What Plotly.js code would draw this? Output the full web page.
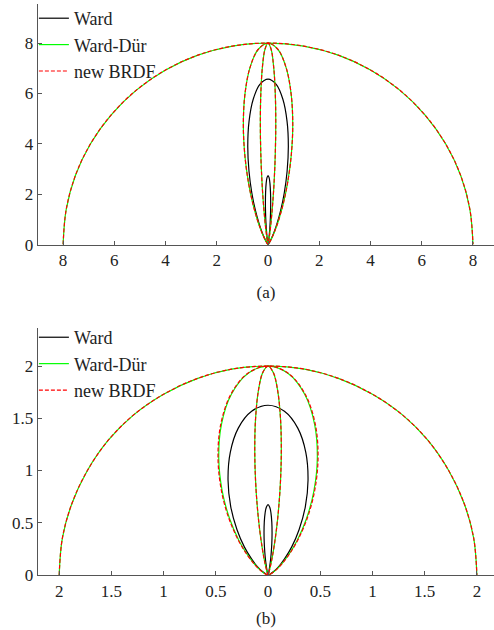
<!DOCTYPE html>
<html><head><meta charset="utf-8">
<script src="https://cdn.plot.ly/plotly-3.0.1.min.js"></script>
<style>
html,body{margin:0;padding:0;background:#fff}
#chart{width:494px;height:630px}
#chart svg text{font-family:'Liberation Serif' !important}
</style>
</head><body><div id="chart"></div>
<script>
// ---------- (a) ----------
const circA_x = [-8, -7.88, -7.52, -6.93, -6.13, -5.14, -4, -2.74, -1.39, 0, 1.39, 2.74, 4, 5.14, 6.13, 6.93, 7.52, 7.88, 8];
const circA_y = [0, 1.39, 2.74, 4, 5.14, 6.13, 6.93, 7.52, 7.88, 8, 7.88, 7.52, 6.93, 6.13, 5.14, 4, 2.74, 1.39, 0];
const durOutA_x = [0, 0.050, 0.168, 0.277, 0.421, 0.594, 0.768, 0.906, 0.964, 0.902, 0.705, 0.388, 0, -0.388, -0.705, -0.902, -0.964, -0.906, -0.768, -0.594, -0.421, -0.277, -0.168, -0.050, 0];
const durOutA_y = [0, 0.073, 0.308, 0.573, 0.997, 1.626, 2.482, 3.548, 4.755, 5.970, 7.025, 7.744, 8, 7.744, 7.025, 5.970, 4.755, 3.548, 2.482, 1.626, 0.997, 0.573, 0.308, 0.073, 0];
const durInA_x = [0, 0.017, 0.054, 0.089, 0.134, 0.188, 0.242, 0.284, 0.301, 0.281, 0.219, 0.120, 0, -0.120, -0.219, -0.281, -0.301, -0.284, -0.242, -0.188, -0.134, -0.089, -0.054, -0.017, 0];
const durInA_y = [0, 0.088, 0.347, 0.631, 1.074, 1.720, 2.587, 3.651, 4.843, 6.031, 7.057, 7.753, 8, 7.753, 7.057, 6.031, 4.843, 3.651, 2.587, 1.720, 1.074, 0.631, 0.347, 0.088, 0];
const wardOutA_x = [0, 0.041, 0.138, 0.227, 0.346, 0.488, 0.631, 0.744, 0.792, 0.741, 0.579, 0.319, 0, -0.319, -0.579, -0.741, -0.792, -0.744, -0.631, -0.488, -0.346, -0.227, -0.138, -0.041, 0];
const wardOutA_y = [0, 0.060, 0.253, 0.470, 0.819, 1.335, 2.038, 2.913, 3.905, 4.902, 5.769, 6.359, 6.57, 6.359, 5.769, 4.902, 3.905, 2.913, 2.038, 1.335, 0.819, 0.470, 0.253, 0.060, 0];
const wardInA_x = [0, 0.006, 0.018, 0.030, 0.046, 0.064, 0.083, 0.097, 0.103, 0.096, 0.075, 0.041, 0, -0.041, -0.075, -0.096, -0.103, -0.097, -0.083, -0.064, -0.046, -0.030, -0.018, -0.006, 0];
const wardInA_y = [0, 0.030, 0.119, 0.216, 0.368, 0.589, 0.886, 1.250, 1.659, 2.066, 2.417, 2.655, 2.74, 2.655, 2.417, 2.066, 1.659, 1.250, 0.886, 0.589, 0.368, 0.216, 0.119, 0.030, 0];

// ---------- (b) ----------
const circB_x = [-2, -1.97, -1.88, -1.73, -1.53, -1.29, -1, -0.68, -0.35, 0, 0.35, 0.68, 1, 1.29, 1.53, 1.73, 1.88, 1.97, 2];
const circB_y = [0, 0.35, 0.68, 1, 1.29, 1.53, 1.73, 1.88, 1.97, 2, 1.97, 1.88, 1.73, 1.53, 1.29, 1, 0.68, 0.35, 0];
const durOutB_x = [0, 0.021, 0.074, 0.125, 0.194, 0.279, 0.367, 0.439, 0.472, 0.446, 0.351, 0.193, 0, -0.193, -0.351, -0.446, -0.472, -0.439, -0.367, -0.279, -0.194, -0.125, -0.074, -0.021, 0];
const durOutB_y = [0, 0.008, 0.047, 0.099, 0.189, 0.331, 0.536, 0.804, 1.117, 1.442, 1.730, 1.929, 2, 1.929, 1.730, 1.442, 1.117, 0.804, 0.536, 0.331, 0.189, 0.099, 0.047, 0.008, 0];
const newOutB_x = [0, 0.021, 0.075, 0.127, 0.197, 0.283, 0.373, 0.446, 0.479, 0.453, 0.356, 0.196, 0, -0.196, -0.356, -0.453, -0.479, -0.446, -0.373, -0.283, -0.197, -0.127, -0.075, -0.021, 0];
const durInB_x = [0, 0.0068, 0.0228, 0.0373, 0.0565, 0.0792, 0.1018, 0.1197, 0.1272, 0.1189, 0.0926, 0.0509, 0, -0.0509, -0.0926, -0.1189, -0.1272, -0.1197, -0.1018, -0.0792, -0.0565, -0.0373, -0.0228, -0.0068, 0];
const durInB_y = [0, 0.021, 0.0848, 0.1547, 0.265, 0.4253, 0.641, 0.908, 1.206, 1.505, 1.763, 1.937, 2, 1.937, 1.763, 1.505, 1.206, 0.908, 0.641, 0.4253, 0.265, 0.1547, 0.0848, 0.021, 0];
const wardOutB_x = [0, 0.017, 0.060, 0.102, 0.158, 0.227, 0.298, 0.357, 0.383, 0.362, 0.285, 0.157, 0, -0.157, -0.285, -0.362, -0.383, -0.357, -0.298, -0.227, -0.158, -0.102, -0.060, -0.017, 0];
const wardOutB_y = [0, 0.007, 0.038, 0.080, 0.154, 0.269, 0.436, 0.653, 0.908, 1.172, 1.406, 1.567, 1.625, 1.567, 1.406, 1.172, 0.908, 0.653, 0.436, 0.269, 0.154, 0.080, 0.038, 0.007, 0];
const wardInB_x = [0, 0.0021, 0.0069, 0.0113, 0.0171, 0.0240, 0.0308, 0.0363, 0.0385, 0.0360, 0.0281, 0.0154, 0, -0.0154, -0.0281, -0.0360, -0.0385, -0.0363, -0.0308, -0.0240, -0.0171, -0.0113, -0.0069, -0.0021, 0];
const wardInB_y = [0, 0.007, 0.0285, 0.052, 0.089, 0.143, 0.216, 0.306, 0.406, 0.506, 0.593, 0.652, 0.673, 0.652, 0.593, 0.506, 0.406, 0.306, 0.216, 0.143, 0.089, 0.052, 0.0285, 0.007, 0];

// ticks
const xTickValsA = [-8, -6, -4, -2, 0, 2, 4, 6, 8];
const xTickTextA = ['8', '6', '4', '2', '0', '2', '4', '6', '8'];
const yTickValsA = [0, 2, 4, 6, 8];
const yTickTextA = ['0', '2', '4', '6', '8'];
const xTickValsB = [-2, -1.5, -1, -0.5, 0, 0.5, 1, 1.5, 2];
const xTickTextB = ['2', '1.5', '1', '0.5', '0', '0.5', '1', '1.5', '2'];
const yTickValsB = [0, 0.5, 1, 1.5, 2];
const yTickTextB = ['0', '0.5', '1', '1.5', '2'];

const names = ['Ward', 'Ward-D\u00fcr', 'new BRDF'];

const BLACK = '#000000', GREEN = '#00ff00', RED = '#ff0000';
const FONT = 'Liberation Serif';

function tr(x, y, xa, ya, color, dash, name, show, legend) {
  return {
    x: x, y: y, xaxis: xa, yaxis: ya, type: 'scatter', mode: 'lines',
    line: {color: color, width: 1.2, dash: dash, shape: 'spline', smoothing: 1},
    name: name, showlegend: show, legend: legend, hoverinfo: 'skip'
  };
}

const data = [
  // (a)
  tr(wardOutA_x, wardOutA_y, 'x', 'y', BLACK, 'solid', names[0], true, 'legend'),
  tr(wardInA_x, wardInA_y, 'x', 'y', BLACK, 'solid', names[0], false, 'legend'),
  tr(circA_x, circA_y, 'x', 'y', GREEN, 'solid', names[1], true, 'legend'),
  tr(durOutA_x, durOutA_y, 'x', 'y', GREEN, 'solid', names[1], false, 'legend'),
  tr(durInA_x, durInA_y, 'x', 'y', GREEN, 'solid', names[1], false, 'legend'),
  tr(circA_x, circA_y, 'x', 'y', RED, '4px,2px', names[2], true, 'legend'),
  tr(durOutA_x, durOutA_y, 'x', 'y', RED, '4px,2px', names[2], false, 'legend'),
  tr(durInA_x, durInA_y, 'x', 'y', RED, '4px,2px', names[2], false, 'legend'),
  // (b)
  tr(wardOutB_x, wardOutB_y, 'x2', 'y2', BLACK, 'solid', names[0], true, 'legend2'),
  tr(wardInB_x, wardInB_y, 'x2', 'y2', BLACK, 'solid', names[0], false, 'legend2'),
  tr(circB_x, circB_y, 'x2', 'y2', GREEN, 'solid', names[1], true, 'legend2'),
  tr(durOutB_x, durOutB_y, 'x2', 'y2', GREEN, 'solid', names[1], false, 'legend2'),
  tr(durInB_x, durInB_y, 'x2', 'y2', GREEN, 'solid', names[1], false, 'legend2'),
  tr(circB_x, circB_y, 'x2', 'y2', RED, '4px,2px', names[2], true, 'legend2'),
  tr(newOutB_x, durOutB_y, 'x2', 'y2', RED, '4px,2px', names[2], false, 'legend2'),
  tr(durInB_x, durInB_y, 'x2', 'y2', RED, '4px,2px', names[2], false, 'legend2')
];

function axisBase() {
  return {
    showgrid: false, zeroline: false, showline: true, linecolor: '#555', linewidth: 1.3,
    ticks: 'inside', ticklen: 4, tickwidth: 1, tickcolor: '#555',
    tickfont: {family: FONT, size: 17, color: '#222'}, tickmode: 'array', fixedrange: true
  };
}

const layout = {
  width: 494, height: 630,
  margin: {l: 38, r: 0, t: 3, b: 55, pad: 0},
  paper_bgcolor: '#fff', plot_bgcolor: '#fff',
  font: {family: FONT, size: 17, color: '#222'},
  xaxis: Object.assign(axisBase(), {domain: [0, 1], anchor: 'y', range: [-8.98, 8.82],
    tickvals: xTickValsA, ticktext: xTickTextA,
    title: {text: '(a)', font: {family: FONT, size: 17, color: '#222'}, standoff: 16}}),
  yaxis: Object.assign(axisBase(), {domain: [0.5787, 1], anchor: 'x', range: [0, 9.55],
    tickvals: yTickValsA, ticktext: yTickTextA}),
  xaxis2: Object.assign(axisBase(), {domain: [0, 1], anchor: 'y2', range: [-2.203, 2.164],
    tickvals: xTickValsB, ticktext: xTickTextB,
    title: {text: '(b)', font: {family: FONT, size: 17, color: '#222'}, standoff: 12}}),
  yaxis2: Object.assign(axisBase(), {domain: [0, 0.4318], anchor: 'x2', range: [0, 2.36],
    tickvals: yTickValsB, ticktext: yTickTextB}),
  legend: {x: -0.009, y: 1.007, xanchor: 'left', yanchor: 'top', bgcolor: 'rgba(0,0,0,0)',
    borderwidth: 0, font: {family: FONT, size: 18, color: '#222'}, tracegroupgap: 0},
  legend2: {x: -0.009, y: 0.4475, xanchor: 'left', yanchor: 'top', bgcolor: 'rgba(0,0,0,0)',
    borderwidth: 0, font: {family: FONT, size: 18, color: '#222'}, tracegroupgap: 0},
  showlegend: true, hovermode: false
};

Plotly.newPlot('chart', data, layout, {displayModeBar: false, staticPlot: true});
</script>
</body></html>
